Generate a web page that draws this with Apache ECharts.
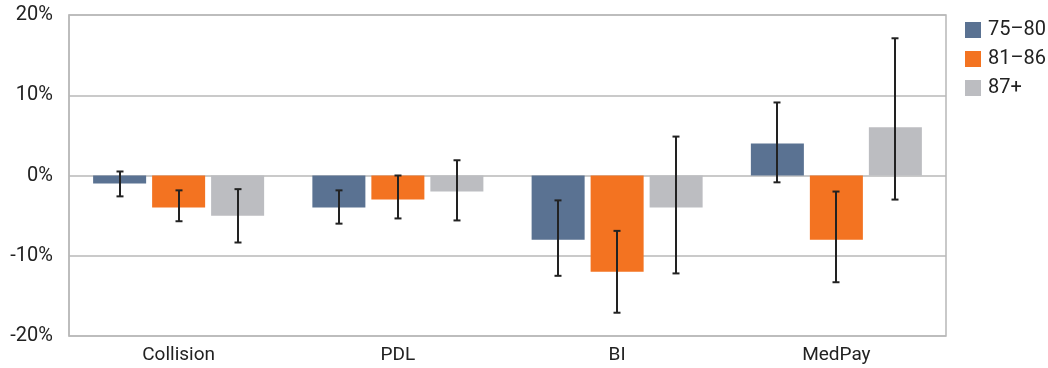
<!DOCTYPE html>
<html>
<head>
<meta charset="utf-8">
<script src="https://cdn.jsdelivr.net/npm/echarts@6/dist/echarts.min.js"></script>
<style>html,body{margin:0;padding:0;background:#fff}#c{width:1048px;height:368px}</style>
</head>
<body>
<div id="c"></div>
<script>
const categories = ['Collision', 'PDL', 'BI', 'MedPay'];
const seriesNames = ['75\u201380', '81\u201386', '87+'];
const values7580 = [-1.0, -4.0, -8.0, 4.0];
const values8186 = [-4.0, -3.0, -12.0, -8.0];
const values87 = [-5.0, -2.0, -4.0, 6.0];
const errLow7580 = [-2.6, -6.0, -12.5, -0.85];
const errHigh7580 = [0.5, -1.85, -3.1, 9.1];
const errLow8186 = [-5.7, -5.35, -17.1, -13.3];
const errHigh8186 = [-1.85, 0.0, -6.9, -2.0];
const errLow87 = [-8.35, -5.6, -12.2, -3.0];
const errHigh87 = [-1.7, 1.9, 4.85, 17.1];
const yTicks = [-20, -10, 0, 10, 20];

const colors = ['#5a7292', '#f37321', '#bcbdc1'];
const FONT = '"Liberation Sans Narrow", "Roboto", sans-serif';
const barGap = 0.113;
const catGap = 0.22;
const nSeries = 3;

const allVals = [values7580, values8186, values87];
const allLow = [errLow7580, errLow8186, errLow87];
const allHigh = [errHigh7580, errHigh8186, errHigh87];

function errorSeries(idx) {
  return {
    type: 'custom',
    name: seriesNames[idx] + ' err',
    z: 10,
    silent: true,
    renderItem: function (params, api) {
      const ci = api.value(0);
      const lo = api.value(1);
      const hi = api.value(2);
      const band = api.size([1, 0])[0];
      const w = band * (1 - catGap) / (nSeries + (nSeries - 1) * barGap);
      const groupW = nSeries * w + (nSeries - 1) * barGap * w;
      const off = -groupW / 2 + w / 2 + idx * (w + barGap * w);
      const pLo = api.coord([ci, lo]);
      const pHi = api.coord([ci, hi]);
      const x = Math.round(pLo[0] + off);
      const cap = 3.5;
      const st = { stroke: '#222', lineWidth: 2 };
      return {
        type: 'group',
        children: [
          { type: 'line', shape: { x1: x, y1: pLo[1], x2: x, y2: pHi[1] }, style: st },
          { type: 'line', shape: { x1: x - cap, y1: pLo[1], x2: x + cap, y2: pLo[1] }, style: st },
          { type: 'line', shape: { x1: x - cap, y1: pHi[1], x2: x + cap, y2: pHi[1] }, style: st }
        ]
      };
    },
    encode: { x: 0, y: [1, 2] },
    data: categories.map((c, i) => [i, allLow[idx][i], allHigh[idx][i]])
  };
}

const chart = echarts.init(document.getElementById('c'));
chart.setOption({
  animation: false,
  backgroundColor: '#fff',
  color: colors,
  grid: { left: 69, right: 102, top: 15, bottom: 32, show: true, borderColor: '#b8b8b8', borderWidth: 1.5 },
  legend: {
    data: seriesNames,
    orient: 'vertical',
    left: 960, top: 15,
    itemWidth: 16, itemHeight: 16, itemGap: 9,
    icon: 'rect',
    textStyle: { fontFamily: FONT, fontSize: 20, color: '#222', padding: [0, 0, 0, 2] }
  },
  xAxis: {
    type: 'category',
    data: categories,
    axisLine: { show: false },
    axisTick: { show: false },
    axisLabel: { fontFamily: FONT, fontSize: 19, color: '#222', margin: 10 }
  },
  yAxis: {
    type: 'value',
    min: yTicks[0], max: yTicks[yTicks.length - 1], interval: 10,
    axisLine: { show: true, lineStyle: { color: '#b8b8b8', width: 1.5 } },
    axisTick: { show: false },
    splitLine: { lineStyle: { color: '#b8b8b8', width: 1.5 } },
    axisLabel: { fontFamily: FONT, fontSize: 20, color: '#222', margin: 16, formatter: v => v + '%' }
  },
  series: [
    { type: 'bar', name: seriesNames[0], data: values7580, barGap: (barGap * 100) + '%', barCategoryGap: (catGap * 100) + '%' },
    { type: 'bar', name: seriesNames[1], data: values8186 },
    { type: 'bar', name: seriesNames[2], data: values87 },
    errorSeries(0), errorSeries(1), errorSeries(2)
  ]
});
</script>
</body>
</html>
